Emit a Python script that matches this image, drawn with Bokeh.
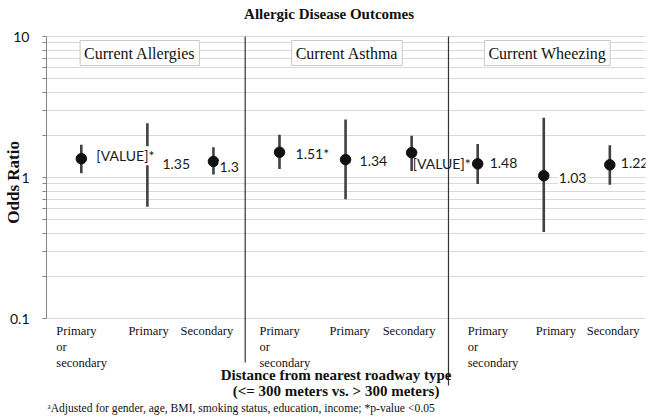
import math
from bokeh.plotting import figure
from bokeh.models import Range1d, Label, FixedTicker, CustomJSTickFormatter, ColumnDataSource
from bokeh.embed import file_html
from bokeh.resources import INLINE

# ---------------- data ----------------
outcomes = ["Current Allergies", "Current Asthma", "Current Wheezing"]
roadway = ["Primary\nor\nsecondary", "Primary", "Secondary"]
odds = [1.36, 1.35, 1.30, 1.51, 1.34, 1.50, 1.25, 1.03, 1.23]
ci_low = [1.07, 0.62, 1.05, 1.15, 0.70, 1.11, 0.90, 0.41, 0.89]
ci_high = [1.71, 2.43, 1.64, 2.01, 2.58, 1.98, 1.73, 2.65, 1.69]
value_labels = ["[VALUE]*", "1.35", "1.3", "1.51*", "1.34", "[VALUE]*", "1.48", "1.03", "1.22"]
y_ticks = [0.1, 1, 10]
y_minor = [0.2, 0.3, 0.4, 0.5, 0.6, 0.7, 0.8, 0.9, 2, 3, 4, 5, 6, 7, 8, 9]
title_text = "Allergic Disease Outcomes"
y_title = "Odds Ratio"
x_title = "Distance from nearest roadway type\n(<= 300 meters vs. > 300 meters)"
footnote = "\u1d43Adjusted for gender, age, BMI, smoking status, education, income; *p-value <0.05"

# ---------------- layout helpers (pixel positions on the page) ----------------
W, H = 650, 419
X_START, X_END = -0.527, 8.54
FRAME_L, FRAME_R = 43, 645
DECADE = 141.0
TOP_REF = 36.0                      # y pixel of 10

def xd(px):
    return X_START + (px - FRAME_L) / (FRAME_R - FRAME_L) * (X_END - X_START)

def yd(py):
    return 10 ** (1 - (py - TOP_REF) / DECADE)

SERIF = "Liberation Serif"
SANS = "Lato"

xs = list(range(len(odds)))
src = ColumnDataSource(dict(x=xs, odds=odds, lo=ci_low, hi=ci_high))

p = figure(width=W, height=H, output_backend="svg", toolbar_location=None,
           y_axis_type="log",
           x_range=Range1d(X_START, X_END), y_range=Range1d(yd(H), yd(0)),
           min_border_left=FRAME_L, min_border_right=W - FRAME_R, min_border_top=0, min_border_bottom=0,
           title=None)
p.outline_line_color = None
p.background_fill_color = "white"
p.border_fill_color = "white"
p.xaxis.visible = False
p.xgrid.visible = False

ticker = FixedTicker(ticks=y_ticks, minor_ticks=y_minor)
p.yaxis.ticker = ticker
p.yaxis.formatter = CustomJSTickFormatter(code="return String(tick)")
p.yaxis.bounds = (0.1, 10)
p.yaxis.axis_line_color = "#868686"
p.yaxis.major_tick_line_color = "#868686"
p.yaxis.minor_tick_line_color = "#868686"
p.yaxis.major_tick_out = 4
p.yaxis.major_tick_in = 0
p.yaxis.minor_tick_out = 4
p.yaxis.minor_tick_in = 0
p.yaxis.major_label_standoff = 13
p.yaxis.major_label_text_font = SANS
p.yaxis.major_label_text_font_size = "14px"
p.yaxis.major_label_text_color = "#111111"
# the axis label is centred on the (tall) frame; leading no-break spaces lift it to the 1 line
p.yaxis.axis_label = "\u00a0" * 13 + y_title
p.yaxis.axis_label_text_font = SERIF
p.yaxis.axis_label_text_font_size = "17px"
p.yaxis.axis_label_text_font_style = "bold"
p.yaxis.axis_label_text_color = "#111111"
p.yaxis.axis_label_standoff = -16

p.ygrid.ticker = ticker
p.ygrid.bounds = (0.1, 10)
p.ygrid.grid_line_color = "#d9d9d9"
p.ygrid.minor_grid_line_color = "#d9d9d9"
p.ygrid.grid_line_width = 1
p.ygrid.minor_grid_line_width = 1

# dividers between panels
divider_x = [xd(242.7), xd(447)]
divider_bottom = [yd(362), yd(385)]
p.segment(x0=divider_x, y0=[10, 10], x1=divider_x, y1=divider_bottom,
          line_color="#333333", line_width=1.2)

# error bars and points
p.segment(x0="x", y0="lo", x1="x", y1="hi", source=src, line_color="#404040", line_width=2.6)
p.scatter(x="x", y="odds", source=src, size=10.5, fill_color="#111111", line_color="#111111")

# value labels
lab_dx = [14, 14, 5, 15, 13, 0, 11, 14, 10]
lab_dy = [3, -5, -6, -1, -1, -11, 1, -2, 2]
for i, t in enumerate(value_labels):
    p.add_layout(Label(x=xs[i], y=odds[i], x_offset=lab_dx[i], y_offset=lab_dy[i], text=t,
                       text_align="left", text_baseline="middle",
                       text_font=SANS, text_font_size="14px", text_color="#1a1a1a",
                       background_fill_color=None if i == 5 else "white", padding=1))

# category (x tick) labels
tick_dx = [-25, -19, -33, -20, -16, -29, -10, -8, -23]
for i in xs:
    p.add_layout(Label(x=xs[i], y=0.1, x_offset=tick_dx[i], y_offset=-5, text=roadway[i % 3],
                       text_align="left", text_baseline="top",
                       text_font=SERIF, text_font_size="12.5px", text_line_height=1.16,
                       text_color="#111111"))

# panel titles
panel_cx = [xd(136.7), xd(345), xd(546.3)]
for cx, t in zip(panel_cx, outcomes):
    p.add_layout(Label(x=cx, y=10, y_offset=-4, text=t, text_align="center", text_baseline="top",
                       text_font=SERIF, text_font_size="16px", text_color="#111111",
                       background_fill_color="white", border_line_color="#c8c8c8",
                       border_line_width=1, padding=4))

# titles
p.add_layout(Label(x=xd(327), y=yd(13), text=title_text, text_align="center", text_baseline="middle",
                   text_font=SERIF, text_font_size="15px", text_font_style="bold", text_color="#111111"))
p.add_layout(Label(x=xd(334), y=0.1, y_offset=-48, text=x_title, text_align="center",
                   text_baseline="top", text_font=SERIF, text_font_size="15px",
                   text_font_style="bold", text_line_height=1.0, text_color="#111111"))
p.add_layout(Label(x=xd(44), y=yd(408), text=footnote, text_align="left", text_baseline="middle",
                   text_font=SERIF, text_font_size="11.6px", text_color="#111111"))

open("out.html", "w").write(file_html(p, INLINE))
